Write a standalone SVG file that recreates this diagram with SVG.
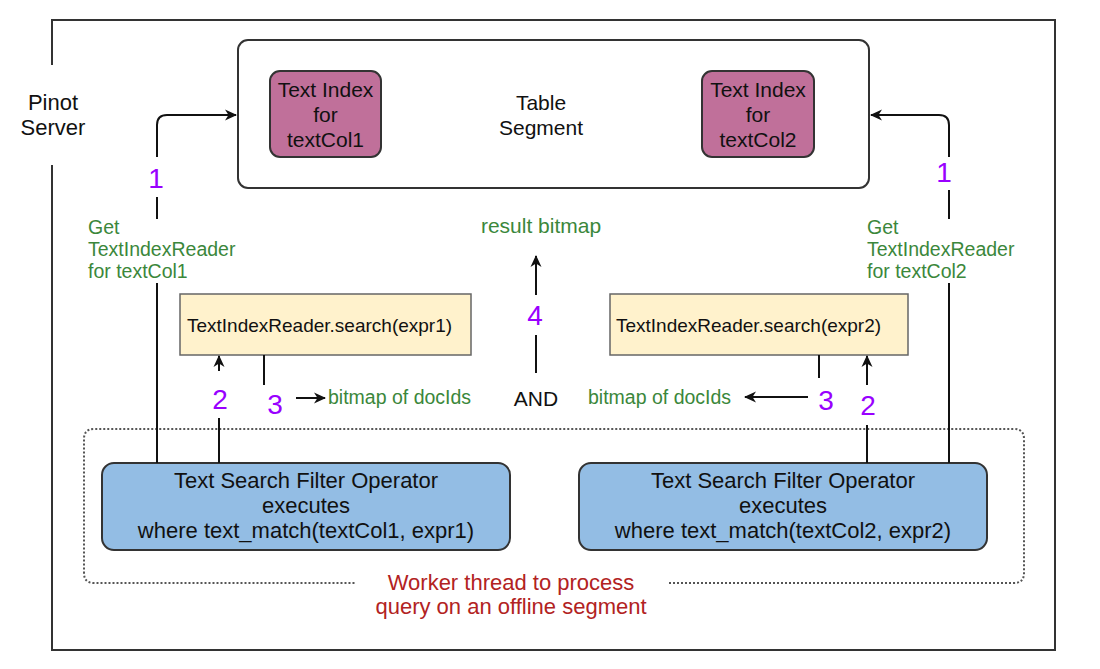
<svg xmlns="http://www.w3.org/2000/svg" width="1100" height="669" viewBox="0 0 1100 669">
<style>
text{font-family:"Liberation Sans",Arial,sans-serif;fill:#111}
.c{text-anchor:middle}
.big{font-size:22px}
.idx{font-size:21px}
.num{font-size:28px;fill:#9900ff;text-anchor:middle}
.grn{font-size:19.5px;fill:#3b873b}
.red{font-size:22px;fill:#b22222;text-anchor:middle}
.line{fill:none;stroke:#111;stroke-width:2}
.bg{fill:#fff}
.pink{fill:#c0709a;stroke:#333;stroke-width:2}
.blue{fill:#93bde4;stroke:#333;stroke-width:2}
.yel{fill:#fff2cc;stroke:#666;stroke-width:1.5}
</style>
<defs>
<marker id="ah" markerUnits="userSpaceOnUse" markerWidth="14" markerHeight="14" viewBox="0 0 14 14" refX="12" refY="7" orient="auto">
<path d="M1,1.5 L13,7 L1,12.5 L4.5,7 z" fill="#111"/>
</marker>
</defs>
<rect width="1100" height="669" fill="#fff"/>

<g id="pinot-server">
<path d="M52 65 V20 H1055 V650 H52 V165" fill="none" stroke="#333" stroke-width="2"/>
<text class="big c" x="53" y="110">Pinot</text>
<text class="big c" x="53" y="135">Server</text>
</g>

<g id="worker-thread">
<path d="M669 583 H1014 Q1024 583 1024 573 V439 Q1024 429 1014 429 H94 Q84 429 84 439 V573 Q84 583 94 583 H356" fill="none" stroke="#555" stroke-width="2" stroke-dasharray="2 2"/>
<text class="red" x="511" y="590">Worker thread to process</text>
<text class="red" x="511" y="614">query on an offline segment</text>
</g>

<g id="table-segment">
<rect x="238" y="40" width="631" height="148" rx="10" fill="#fff" stroke="#333" stroke-width="2"/>
<text class="idx c" x="541" y="110">Table</text>
<text class="idx c" x="541" y="135">Segment</text>
</g>

<g id="text-index-1">
<rect class="pink" x="270" y="71" width="111" height="86" rx="10"/>
<text class="idx c" x="325.5" y="97">Text Index</text>
<text class="idx c" x="325.5" y="122">for</text>
<text class="idx c" x="325.5" y="147">textCol1</text>
</g>

<g id="text-index-2">
<rect class="pink" x="702" y="71" width="112" height="86" rx="10"/>
<text class="idx c" x="758" y="97">Text Index</text>
<text class="idx c" x="758" y="122">for</text>
<text class="idx c" x="758" y="147">textCol2</text>
</g>

<g id="search-1">
<rect class="yel" x="180" y="294" width="291" height="61"/>
<text x="187" y="332" font-size="19">TextIndexReader.search(expr1)</text>
</g>

<g id="search-2">
<rect class="yel" x="610" y="294" width="298" height="61"/>
<text x="616" y="332" font-size="19">TextIndexReader.search(expr2)</text>
</g>

<g id="filter-1">
<rect class="blue" x="102" y="463" width="408" height="87" rx="12"/>
<text class="big c" x="306" y="488">Text Search Filter Operator</text>
<text class="big c" x="306" y="513">executes</text>
<text class="big c" x="306" y="538">where text_match(textCol1, expr1)</text>
</g>

<g id="filter-2">
<rect class="blue" x="579" y="463" width="408" height="87" rx="12"/>
<text class="big c" x="783" y="488">Text Search Filter Operator</text>
<text class="big c" x="783" y="513">executes</text>
<text class="big c" x="783" y="538">where text_match(textCol2, expr2)</text>
</g>

<g id="and-node">
<text class="idx c" x="536" y="406">AND</text>
</g>

<g id="connectors">
<path class="line" d="M157 463 V125 Q157 115 167 115 H236" marker-end="url(#ah)"/>
<rect class="bg" x="140" y="157" width="34" height="40"/>
<text class="num" x="156" y="188">1</text>
<rect class="bg" x="85" y="219" width="154" height="64"/>
<text class="grn" x="88" y="234">Get</text>
<text class="grn" x="88" y="256">TextIndexReader</text>
<text class="grn" x="88" y="278">for textCol1</text>

<path class="line" d="M949 463 V125 Q949 115 939 115 H871" marker-end="url(#ah)"/>
<rect class="bg" x="932" y="157" width="34" height="33"/>
<text class="num" x="944" y="182">1</text>
<rect class="bg" x="864" y="219" width="156" height="64"/>
<text class="grn" x="867" y="234">Get</text>
<text class="grn" x="867" y="256">TextIndexReader</text>
<text class="grn" x="867" y="278">for textCol2</text>

<path class="line" d="M219 463 V356" marker-end="url(#ah)"/>
<rect class="bg" x="205" y="371" width="30" height="47"/>
<text class="num" x="220" y="409">2</text>

<path class="line" d="M867 463 V356" marker-end="url(#ah)"/>
<rect class="bg" x="853" y="385" width="30" height="40"/>
<text class="num" x="868" y="415">2</text>

<path class="line" d="M264 355 V398 H325" marker-end="url(#ah)"/>
<rect class="bg" x="250" y="385" width="46" height="32"/>
<text class="num" x="275" y="414">3</text>
<text class="grn" x="328" y="404">bitmap of docIds</text>

<path class="line" d="M819 355 V397 H745" marker-end="url(#ah)"/>
<rect class="bg" x="808" y="378" width="36" height="36"/>
<text class="num" x="826" y="410">3</text>
<text class="grn" x="588" y="404">bitmap of docIds</text>

<path class="line" d="M536 373 V256" marker-end="url(#ah)"/>
<rect class="bg" x="521" y="295" width="30" height="40"/>
<text class="num" x="535" y="325">4</text>
<text class="c" x="541" y="233" font-size="21" fill="#3b873b" style="fill:#3b873b">result bitmap</text>
</g>
</svg>
